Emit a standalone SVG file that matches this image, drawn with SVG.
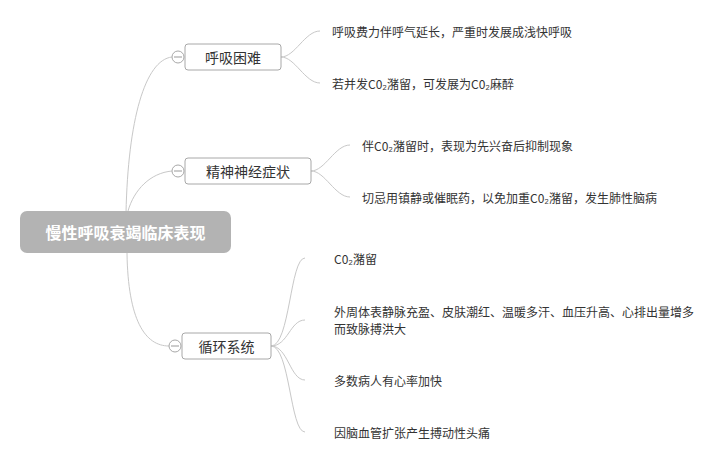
<svg xmlns="http://www.w3.org/2000/svg" width="725" height="465" viewBox="0 0 725 465">
<style>
.c{fill:none;stroke:#c8c8c8;stroke-width:1}
.b{fill:#fff;stroke:#a8a8a8;stroke-width:1}
.bt{font-family:"Noto Sans CJK SC","Liberation Sans",sans-serif;font-size:14px;fill:#333;dominant-baseline:central}
.lt{font-family:"Noto Sans CJK SC","Liberation Sans",sans-serif;font-size:12px;fill:#333;dominant-baseline:central}
.m{fill:#fff;stroke:#a8a8a8}
</style>
<rect width="725" height="465" fill="#fff"/>
<g id="connectors">
<path class="c" d="M126,213 C128,120 145,60 172,57"/>
<path class="c" d="M128,211 C134,190 150,173 172,171"/>
<path class="c" d="M127,253 C128,320 145,346 169,346"/>
<path class="c" d="M281,57 C295,57 305,31 320,31"/>
<path class="c" d="M281,57 C295,57 305,83 320,83"/>
<path class="c" d="M311,171 C325,171 335,145 350,145"/>
<path class="c" d="M311,171 C325,171 335,197 350,197"/>
<path class="c" d="M271,346 C290,346 290,258 305,258"/>
<path class="c" d="M271,346 C288,346 290,320 305,320"/>
<path class="c" d="M271,346 C288,346 290,380 305,380"/>
<path class="c" d="M271,346 C290,346 290,432 305,432"/>
</g>
<g id="root">
<rect x="20" y="211" width="211" height="42" rx="7" fill="#b3b3b3"/>
<text x="125.5" y="232" text-anchor="middle" font-family="Noto Sans CJK SC,Liberation Sans,sans-serif" font-size="16" font-weight="bold" fill="#fff" dominant-baseline="central">慢性呼吸衰竭临床表现</text>
</g>
<g id="b1">
<circle class="m" cx="178" cy="57" r="6"/><line x1="174" y1="57" x2="182" y2="57" stroke="#999"/>
<rect class="b" x="185" y="44" width="96" height="26" rx="3"/>
<text class="bt" x="233" y="57" text-anchor="middle">呼吸困难</text>
</g>
<g id="b2">
<circle class="m" cx="178" cy="171" r="6"/><line x1="174" y1="171" x2="182" y2="171" stroke="#999"/>
<rect class="b" x="185" y="158" width="126" height="26" rx="3"/>
<text class="bt" x="248" y="171" text-anchor="middle">精神神经症状</text>
</g>
<g id="b3">
<circle class="m" cx="175" cy="346" r="6"/><line x1="171" y1="346" x2="179" y2="346" stroke="#999"/>
<rect class="b" x="182" y="333" width="89" height="26" rx="3"/>
<text class="bt" x="226.5" y="346" text-anchor="middle">循环系统</text>
</g>
<g id="leaves">
<text class="lt" x="332" y="31">呼吸费力伴呼气延长，严重时发展成浅快呼吸</text>
<text class="lt" x="332" y="83">若并发C0₂潴留，可发展为C0₂麻醉</text>
<text class="lt" x="362" y="145">伴C0₂潴留时，表现为先兴奋后抑制现象</text>
<text class="lt" x="362" y="197">切忌用镇静或催眠药，以免加重C0₂潴留，发生肺性脑病</text>
<text class="lt" x="334" y="258">C0₂潴留</text>
<text class="lt" x="334" y="311">外周体表静脉充盈、皮肤潮红、温暖多汗、血压升高、心排出量增多</text>
<text class="lt" x="334" y="328">而致脉搏洪大</text>
<text class="lt" x="334" y="380">多数病人有心率加快</text>
<text class="lt" x="334" y="432">因脑血管扩张产生搏动性头痛</text>
</g>
</svg>
